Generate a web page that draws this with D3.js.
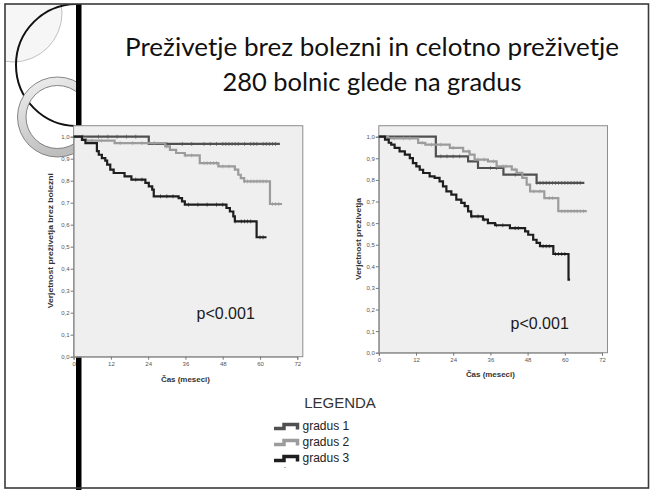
<!DOCTYPE html>
<html><head><meta charset="utf-8">
<script src="https://cdn.jsdelivr.net/npm/d3@7"></script>
<style>html,body{margin:0;padding:0;background:#fff;overflow:hidden}</style>
</head><body>
<svg id="c" width="652" height="490"></svg>
<script>
// ---------- data ----------
const titleLines = ["Preživetje brez bolezni in celotno preživetje", "280 bolnic glede na gradus"];
const seriesNames = ["gradus 1", "gradus 2", "gradus 3"];
const seriesColors = ["#505050", "#9c9c9c", "#1e1e1e"];
const xTicks = [0, 12, 24, 36, 48, 60, 72];
const yTicks = [0, 0.1, 0.2, 0.3, 0.4, 0.5, 0.6, 0.7, 0.8, 0.9, 1.0];
const yTickLabels = ["0,0", "0,1", "0,2", "0,3", "0,4", "0,5", "0,6", "0,7", "0,8", "0,9", "1,0"];
const xTitle = "Čas (meseci)";
const yTitleDfs = "Verjetnost preživetja brez bolezni";
const yTitleOs = "Verjetnost preživetja";
const pValueText = "p<0.001";
const legendTitle = "LEGENDA";

// Disease-free survival (left)
const dfsG1Time = [0, 24.2, 66.4];
const dfsG1Surv = [1.0, 0.967, 0.967];
const dfsG1Censor = [3, 8, 11, 14, 17, 20, 30, 35, 38, 42, 44, 46, 48, 49, 50, 51, 52, 53, 55, 57, 58, 59, 61, 62, 63, 64, 65];
const dfsG2Time = [0, 2.7, 4.0, 13.2, 29.5, 31.0, 33.0, 35.8, 40.6, 46.6, 51.9, 53.0, 53.8, 54.9, 63.2, 67.1];
const dfsG2Surv = [1.0, 0.992, 0.982, 0.971, 0.956, 0.940, 0.926, 0.915, 0.880, 0.865, 0.850, 0.827, 0.812, 0.797, 0.694, 0.694];
const dfsG2Censor = [6, 9, 15, 19, 22, 26, 30, 36, 38, 42, 43, 44, 45, 46, 48, 50, 55, 56, 57, 58, 59, 60, 61, 62, 64, 65, 66];
const dfsG3Time = [0, 2.7, 3.8, 7.5, 8.1, 9.1, 10.2, 10.8, 11.8, 12.9, 16.4, 18.6, 23.1, 24.2, 25.3, 25.8, 33.8, 34.9, 35.8, 49.2, 50.3, 51.4, 51.9, 58.9, 62.1];
const dfsG3Surv = [1.0, 0.985, 0.971, 0.934, 0.918, 0.903, 0.891, 0.873, 0.850, 0.835, 0.820, 0.805, 0.790, 0.774, 0.759, 0.729, 0.721, 0.706, 0.691, 0.676, 0.660, 0.638, 0.615, 0.543, 0.543];
const dfsG3Censor = [20, 22, 28, 30, 32, 37, 40, 43, 46, 48, 52, 54, 55, 56, 57, 60, 61];

// Overall survival (right)
const osG1Time = [0, 18.4, 28.8, 32.0, 40.2, 50.9, 66.3];
const osG1Surv = [1.0, 0.909, 0.886, 0.855, 0.824, 0.786, 0.786];
const osG1Censor = [20, 22, 24, 26, 36, 38, 44, 46, 51, 52, 53, 54, 55, 56, 57, 58, 59, 60, 61, 62, 63, 64, 65];
const osG2Time = [0, 3.0, 12.7, 15.0, 22.9, 27.2, 29.3, 30.9, 35.2, 38.0, 42.9, 44.5, 46.3, 47.7, 48.8, 53.4, 57.9, 67.1];
const osG2Surv = [1.0, 0.992, 0.971, 0.963, 0.948, 0.932, 0.917, 0.894, 0.886, 0.863, 0.848, 0.833, 0.809, 0.778, 0.747, 0.716, 0.655, 0.655];
const osG2Censor = [5, 8, 10, 14, 17, 20, 24, 29, 32, 34, 37, 40, 41, 44, 50, 52, 55, 56, 59, 60, 61, 62, 63, 64, 65, 66];
const osG3Time = [0, 2.0, 3.2, 4.0, 5.1, 6.7, 8.4, 10.0, 11.0, 12.1, 13.2, 14.3, 16.4, 18.0, 19.6, 20.7, 21.8, 23.4, 25.0, 26.6, 27.7, 28.8, 29.8, 33.6, 35.2, 37.5, 42.3, 47.2, 48.2, 49.8, 50.9, 52.0, 56.3, 61.2, 61.7];
const osG3Surv = [1.0, 0.986, 0.972, 0.963, 0.948, 0.932, 0.917, 0.901, 0.878, 0.863, 0.847, 0.832, 0.816, 0.809, 0.793, 0.770, 0.747, 0.732, 0.709, 0.694, 0.679, 0.654, 0.631, 0.616, 0.600, 0.590, 0.577, 0.562, 0.546, 0.523, 0.508, 0.493, 0.457, 0.338, 0.338];
const osG3Censor = [30, 32, 34, 38, 40, 44, 45, 53, 54, 55, 57, 58, 59, 60];

// ---------- drawing ----------
const svg = d3.select("#c");
const SANS = "'Liberation Sans', Arial, sans-serif";
const defs = svg.append("defs");
defs.append("clipPath").attr("id", "leftStrip")
  .append("rect").attr("x", 5).attr("y", 4).attr("width", 71).attr("height", 484);
const rg = defs.append("linearGradient").attr("id", "ringGrad")
  .attr("x1", 0).attr("y1", 0).attr("x2", 0.4).attr("y2", 1);
rg.append("stop").attr("offset", "0%").attr("stop-color", "#f2f2f2");
rg.append("stop").attr("offset", "100%").attr("stop-color", "#bdbdbd");

svg.append("rect").attr("width", 652).attr("height", 490).attr("fill", "#fff");

// decorative circles
const deco = svg.append("g").attr("clip-path", "url(#leftStrip)");
deco.append("circle").attr("cx", 13).attr("cy", 13).attr("r", 49)
  .attr("fill", "#f6f6f6").attr("stroke", "#a8a8a8").attr("stroke-width", 0.7);
deco.append("circle").attr("cx", 77).attr("cy", 65).attr("r", 61)
  .attr("fill", "none").attr("stroke", "#111").attr("stroke-width", 2);
const ringArc = d3.arc().innerRadius(31.5).outerRadius(40).startAngle(0).endAngle(2 * Math.PI);
deco.append("path").attr("d", ringArc()).attr("transform", "translate(57.5,117)")
  .attr("fill", "url(#ringGrad)").attr("stroke", "#6a6a6a").attr("stroke-width", 0.8);

// thick vertical bar
svg.append("rect").attr("x", 76).attr("y", 4).attr("width", 5.5).attr("height", 486).attr("fill", "#000");

// slide frame
svg.append("rect").attr("x", 5).attr("y", 4).attr("width", 643.5).attr("height", 484)
  .attr("fill", "none").attr("stroke", "#3a3a3a").attr("stroke-width", 1.6);

// title
const titleWidths = [494, 299];
svg.append("g").selectAll("text").data(titleLines).join("text")
  .attr("x", 372).attr("y", (d, i) => 56 + i * 35)
  .attr("text-anchor", "middle")
  .attr("font-family", "Lato, 'Open Sans', sans-serif")
  .attr("font-size", 25).attr("fill", "#111")
  .attr("textLength", (d, i) => titleWidths[i]).attr("lengthAdjust", "spacingAndGlyphs")
  .text(d => d);

function stepValue(times, surv, t) {
  let v = surv[0];
  for (let i = 0; i < times.length; i++) if (times[i] <= t) v = surv[i];
  return v;
}

function drawChart(cfg) {
  const g = svg.append("g");
  const x = d3.scaleLinear().domain([0, 72]).range([cfg.x0, cfg.x72]);
  const y = d3.scaleLinear().domain([0, 1]).range([cfg.yZero, cfg.yOne]);
  g.append("rect").attr("x", cfg.x0).attr("y", cfg.top)
    .attr("width", cfg.x72 + 5.5 - cfg.x0).attr("height", cfg.yZero - cfg.top)
    .attr("fill", "#efefef").attr("stroke", "#8e8e8e").attr("stroke-width", 1);

  const ya = g.append("g").attr("transform", `translate(${cfg.x0},0)`)
    .call(d3.axisLeft(y).tickValues(yTicks).tickSize(3).tickPadding(1)
      .tickFormat((d, i) => yTickLabels[i]));
  const xa = g.append("g").attr("transform", `translate(0,${cfg.yZero})`)
    .call(d3.axisBottom(x).tickValues(xTicks).tickSize(3).tickPadding(2));
  [ya, xa].forEach(a => {
    a.select(".domain").attr("stroke", "#8e8e8e");
    a.selectAll(".tick line").attr("stroke", "#777");
    a.selectAll(".tick text").attr("fill", "#555").attr("font-size", 6)
      .attr("font-family", SANS);
  });

  const line = d3.line().x(d => x(d[0])).y(d => y(d[1])).curve(d3.curveStepAfter);
  cfg.series.forEach((s, k) => {
    const pts = s.t.map((t, i) => [t, s.s[i]]);
    g.append("path").attr("d", line(pts)).attr("fill", "none")
      .attr("stroke", seriesColors[k]).attr("stroke-width", 2.2);
    g.append("g").selectAll("line").data(s.c).join("line")
      .attr("x1", d => x(d)).attr("x2", d => x(d))
      .attr("y1", d => y(stepValue(s.t, s.s, d)) - 2)
      .attr("y2", d => y(stepValue(s.t, s.s, d)) + 2)
      .attr("stroke", seriesColors[k]).attr("stroke-width", 0.8).attr("opacity", 0.8);
  });

  g.append("text").attr("x", (cfg.x0 + cfg.x72) / 2).attr("y", cfg.xTitleY)
    .attr("text-anchor", "middle").attr("font-family", SANS).attr("font-weight", "bold")
    .attr("font-size", 7.5).attr("fill", "#333")
    .attr("textLength", 49).attr("lengthAdjust", "spacingAndGlyphs").text(xTitle);
  g.append("text").attr("transform", `translate(${cfg.yTitleX},${cfg.yTitleY}) rotate(-90)`)
    .attr("text-anchor", "middle").attr("font-family", SANS).attr("font-weight", "bold")
    .attr("font-size", 7.5).attr("fill", "#333")
    .attr("textLength", cfg.yTitleLen).attr("lengthAdjust", "spacingAndGlyphs").text(cfg.yTitle);
  g.append("text").attr("x", cfg.pX).attr("y", cfg.pY)
    .attr("font-family", SANS).attr("font-size", 16).attr("fill", "#1a1a1a").text(pValueText);
}

drawChart({
  x0: 73.6, x72: 297.3, yZero: 356.7, yOne: 136.7, top: 125.7,
  xTitleY: 381.5, yTitleX: 53, yTitleY: 240.7, yTitle: yTitleDfs, yTitleLen: 135, pX: 196.5, pY: 319,
  series: [
    { t: dfsG1Time, s: dfsG1Surv, c: dfsG1Censor },
    { t: dfsG2Time, s: dfsG2Surv, c: dfsG2Censor },
    { t: dfsG3Time, s: dfsG3Surv, c: dfsG3Censor }
  ]
});
drawChart({
  x0: 378.8, x72: 602, yZero: 352.7, yOne: 136.7, top: 125.7,
  xTitleY: 376.5, yTitleX: 361, yTitleY: 239, yTitle: yTitleOs, yTitleLen: 82, pX: 510.5, pY: 328.5,
  series: [
    { t: osG1Time, s: osG1Surv, c: osG1Censor },
    { t: osG2Time, s: osG2Surv, c: osG2Censor },
    { t: osG3Time, s: osG3Surv, c: osG3Censor }
  ]
});

// legend
const lg = svg.append("g");
lg.append("text").attr("x", 340).attr("y", 408.3).attr("text-anchor", "middle")
  .attr("font-family", SANS).attr("font-size", 15).attr("fill", "#333").text(legendTitle);
const items = lg.selectAll("g.item").data(seriesNames).join("g").attr("class", "item")
  .attr("transform", (d, i) => `translate(274,${430 + i * 16})`);
items.append("path").attr("d", "M0,-1.5 H10 V-5.5 H23.5 V-0.5")
  .attr("fill", "none").attr("stroke", (d, i) => seriesColors[i]).attr("stroke-width", 3.5);
items.append("text").attr("x", 28.5).attr("y", 0)
  .attr("font-family", SANS).attr("font-size", 12).attr("fill", "#222").text(d => d);
lg.append("circle").attr("cx", 285).attr("cy", 467.5).attr("r", 0.6).attr("fill", "#555");
</script>
</body></html>
